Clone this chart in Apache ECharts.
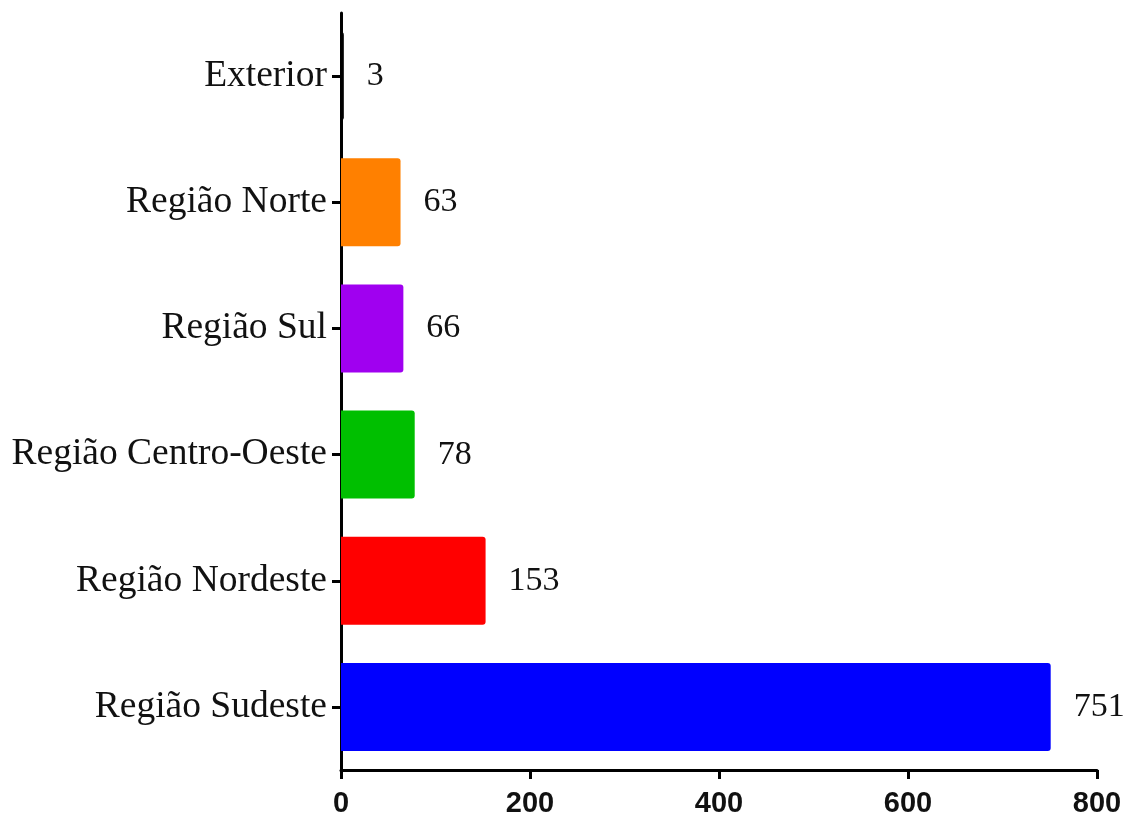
<!DOCTYPE html>
<html>
<head>
<meta charset="utf-8">
<script src="https://cdn.jsdelivr.net/npm/echarts@6/dist/echarts.min.js"></script>
<style>html,body{margin:0;padding:0;background:#fff;}#c{width:1127px;height:814px;}</style>
</head>
<body>
<div id="c"></div>
<script>
const categories = ['Região Sudeste', 'Região Nordeste', 'Região Centro-Oeste', 'Região Sul', 'Região Norte', 'Exterior'];
const values = [751, 153, 78, 66, 63, 3];
const colors = ['#0000FF', '#FF0000', '#00BF00', '#A000F0', '#FF8000', '#000000'];
const xTicks = [0, 200, 400, 600, 800];

const chart = echarts.init(document.getElementById('c'));
chart.setOption({
  animation: false,
  grid: { left: 341, right: 30, top: 13, bottom: 44, containLabel: false, outerBoundsMode: 'none' },
  xAxis: {
    type: 'value', min: 0, max: 800, interval: 200,
    axisLine: { show: true, lineStyle: { color: '#000', width: 3 } },
    axisTick: { show: true, length: 9, lineStyle: { color: '#000', width: 3 } },
    splitLine: { show: false },
    axisLabel: { color: '#111', fontFamily: 'Liberation Sans, Arial', fontWeight: 'bold', fontSize: 29, margin: 19,
      formatter: v => xTicks.includes(v) ? String(v) : '' }
  },
  yAxis: {
    type: 'category', data: categories,
    axisLine: { show: true, lineStyle: { color: '#000', width: 3 } },
    axisTick: { show: true, alignWithLabel: true, length: 9, lineStyle: { color: '#000', width: 3 } },
    axisLabel: { color: '#111', fontFamily: 'Liberation Serif, Times New Roman', fontSize: 37.5, margin: 14 }
  },
  series: [{
    type: 'bar',
    barWidth: 88,
    data: values.map((v, i) => ({ value: v, itemStyle: { color: colors[i], borderRadius: [0, 3, 3, 0] } })),
    label: { show: true, position: 'right', distance: 23, color: '#111', fontFamily: 'Liberation Serif, Times New Roman', fontSize: 34 }
  }]
});
</script>
</body>
</html>
